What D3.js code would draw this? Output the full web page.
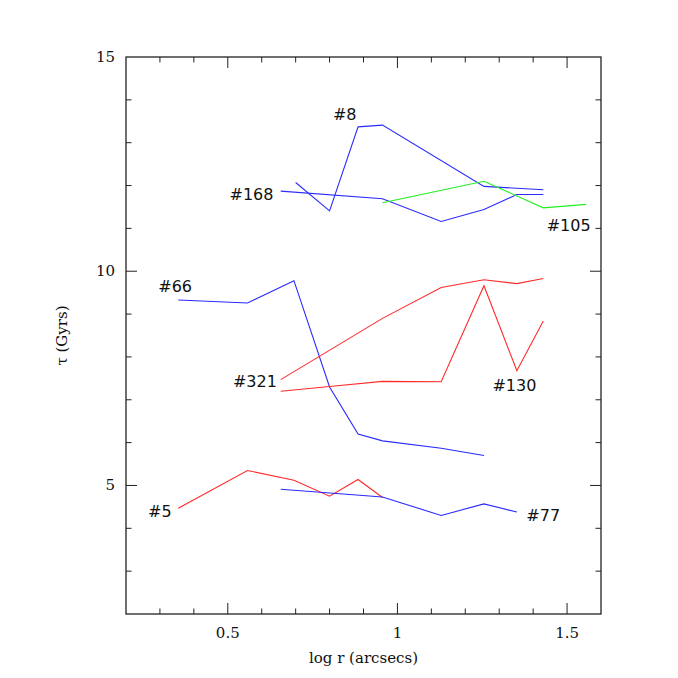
<!DOCTYPE html>
<html>
<head>
<meta charset="utf-8">
<script src="https://cdn.jsdelivr.net/npm/d3@7"></script>
<style>
  body { margin: 0; background: #fff; }
  svg text { fill: #111; }
</style>
</head>
<body>
<svg id="chart" width="678" height="678"></svg>
<script>
// log r values and tau (Gyrs), one list per galaxy
const g8x   = [0.70, 0.80, 0.884, 0.956, 1.255, 1.43];
const g8y   = [12.07, 11.41, 13.37, 13.41, 11.98, 11.90];
const g168x = [0.656, 0.956, 1.129, 1.255, 1.352, 1.43];
const g168y = [11.87, 11.69, 11.16, 11.44, 11.79, 11.79];
const g105x = [0.956, 1.255, 1.43, 1.556];
const g105y = [11.60, 12.10, 11.48, 11.56];
const g66x  = [0.354, 0.558, 0.695, 0.80, 0.884, 0.956, 1.129, 1.255];
const g66y  = [9.33, 9.26, 9.78, 7.30, 6.20, 6.04, 5.87, 5.70];
const g321x = [0.656, 0.956, 1.129, 1.255, 1.352, 1.43];
const g321y = [7.47, 8.90, 9.62, 9.80, 9.71, 9.83];
const g130x = [0.656, 0.80, 0.956, 1.129, 1.255, 1.352, 1.43];
const g130y = [7.20, 7.31, 7.43, 7.42, 9.66, 7.68, 8.84];
const g5x   = [0.354, 0.558, 0.695, 0.80, 0.884, 0.956];
const g5y   = [4.47, 5.35, 5.12, 4.75, 5.14, 4.72];
const g77x  = [0.656, 0.956, 1.129, 1.255, 1.352];
const g77y  = [4.91, 4.73, 4.30, 4.57, 4.38];

const series = [
  { name: "#8",   xs: g8x,   ys: g8y,   color: "#2a2aff", lx: 0.81,  ly: 13.6 },
  { name: "#168", xs: g168x, ys: g168y, color: "#2a2aff", lx: 0.505, ly: 11.73 },
  { name: "#105", xs: g105x, ys: g105y, color: "#22ee22", lx: 1.44,  ly: 11.0 },
  { name: "#66",  xs: g66x,  ys: g66y,  color: "#2a2aff", lx: 0.295, ly: 9.58 },
  { name: "#321", xs: g321x, ys: g321y, color: "#ff2a2a", lx: 0.515, ly: 7.37 },
  { name: "#130", xs: g130x, ys: g130y, color: "#ff2a2a", lx: 1.28,  ly: 7.28 },
  { name: "#5",   xs: g5x,   ys: g5y,   color: "#ff2a2a", lx: 0.265, ly: 4.33 },
  { name: "#77",  xs: g77x,  ys: g77y,  color: "#2a2aff", lx: 1.38,  ly: 4.24 }
];

const svg = d3.select("#chart");
const pLeft = 126, pRight = 601, pTop = 57, pBottom = 614;

const x = d3.scaleLinear().domain([0.2, 1.6]).range([pLeft, pRight]);
const y = d3.scaleLinear().domain([2, 15]).range([pBottom, pTop]);

const axisColor = "#222";
const g = svg.append("g");

// frame
g.append("rect")
  .attr("x", pLeft).attr("y", pTop)
  .attr("width", pRight - pLeft).attr("height", pBottom - pTop)
  .attr("fill", "none").attr("stroke", axisColor).attr("stroke-width", 1.3);

// ticks on all four sides, pointing inward
const xMinor = d3.range(3, 16).map(d => d / 10);
const yMinor = d3.range(3, 15);

xMinor.forEach(v => {
  const major = Math.abs(v * 2 - Math.round(v * 2)) < 1e-6;
  const len = major ? 11 : 5.5;
  g.append("line").attr("x1", x(v)).attr("x2", x(v)).attr("y1", pBottom).attr("y2", pBottom - len)
    .attr("stroke", axisColor).attr("stroke-width", 1);
  g.append("line").attr("x1", x(v)).attr("x2", x(v)).attr("y1", pTop).attr("y2", pTop + len)
    .attr("stroke", axisColor).attr("stroke-width", 1);
});
yMinor.forEach(v => {
  const major = v % 5 === 0;
  const len = major ? 11 : 5.5;
  g.append("line").attr("x1", pLeft).attr("x2", pLeft + len).attr("y1", y(v)).attr("y2", y(v))
    .attr("stroke", axisColor).attr("stroke-width", 1);
  g.append("line").attr("x1", pRight).attr("x2", pRight - len).attr("y1", y(v)).attr("y2", y(v))
    .attr("stroke", axisColor).attr("stroke-width", 1);
});

// tick labels
const xLabels = [0.5, 1, 1.5];
const yLabels = [5, 10, 15];
g.selectAll(".xl").data(xLabels).enter().append("text")
  .attr("x", d => x(d)).attr("y", 638)
  .attr("text-anchor", "middle")
  .style("font", "15px 'DejaVu Serif'")
  .text(d => d);
g.selectAll(".yl").data(yLabels).enter().append("text")
  .attr("x", 115).attr("y", d => y(d) + 5)
  .attr("text-anchor", "end")
  .style("font", "15px 'DejaVu Serif'")
  .text(d => d);

// axis titles
g.append("text")
  .attr("x", (pLeft + pRight) / 2).attr("y", 663)
  .attr("text-anchor", "middle")
  .style("font", "15px 'DejaVu Serif'")
  .text("log r (arcsecs)");
g.append("text")
  .attr("transform", `translate(67,${(pTop + pBottom) / 2}) rotate(-90)`)
  .attr("text-anchor", "middle")
  .style("font", "15px 'DejaVu Serif'")
  .text("τ (Gyrs)");

// lines
const line = d3.line().x(d => x(d[0])).y(d => y(d[1]));
series.forEach(s => {
  const pts = s.xs.map((v, i) => [v, s.ys[i]]);
  g.append("path")
    .attr("d", line(pts))
    .attr("fill", "none")
    .attr("stroke", s.color)
    .attr("stroke-width", 1.1);
  g.append("text")
    .attr("x", x(s.lx)).attr("y", y(s.ly) + 3)
    .style("font", "16px 'DejaVu Sans'")
    .text(s.name);
});
</script>
</body>
</html>
